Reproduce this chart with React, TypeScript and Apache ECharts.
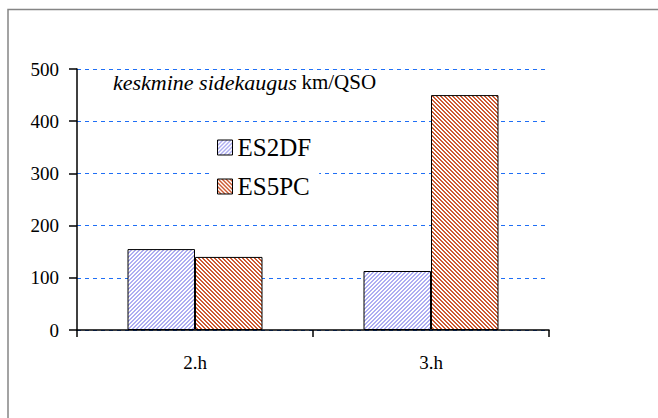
import React, { useEffect, useRef } from "react";
import * as echarts from "echarts";

const categories = ["2.h", "3.h"];
const seriesNames = ["ES2DF", "ES5PC"];
const es2dfValues = [155, 113];
const es5pcValues = [140, 450];
const yMin = 0;
const yMax = 500;
const yInterval = 100;

const FONT = "'Liberation Serif', 'Times New Roman', serif";

function makeHatch(color: string, forward: boolean) {
  const size = 4;
  const c = document.createElement("canvas");
  c.width = size;
  c.height = size;
  const ctx = c.getContext("2d")!;
  ctx.fillStyle = "#ffffff";
  ctx.fillRect(0, 0, size, size);
  ctx.fillStyle = color;
  for (let x = 0; x < size; x++) {
    for (let y = 0; y < size; y++) {
      const v = forward ? (x + y) % size : (x - y + size * 2) % size;
      if (v < 2) ctx.fillRect(x, y, 1, 1);
    }
  }
  return { image: c, repeat: "repeat" };
}

export default function App() {
  const ref = useRef<HTMLDivElement>(null);

  useEffect(() => {
    if (!ref.current) return;
    const chart = echarts.init(ref.current, undefined, { renderer: "svg" });
    const bluePattern = makeHatch("#aeaef2", true);
    const redPattern = makeHatch("#cc5a32", false);

    chart.setOption({
      animation: false,
      backgroundColor: "#ffffff",
      textStyle: { fontFamily: FONT, color: "#000" },
      graphic: [
        {
          type: "rect",
          silent: true,
          z: -10,
          shape: { x: 8, y: 9.5, width: 700, height: 500 },
          style: { fill: "none", stroke: "#858585", lineWidth: 1.5 },
        },
      ],
      title: {
        text: "{i|keskmine sidekaugus} {n|km/QSO}",
        left: 113,
        top: 71,
        padding: 0,
        textStyle: {
          fontWeight: "normal",
          rich: {
            i: { fontFamily: FONT, fontStyle: "italic", fontWeight: "normal", fontSize: 22, color: "#000" },
            n: { fontFamily: FONT, fontWeight: "normal", fontSize: 21, color: "#000" },
          },
        },
      },
      legend: {
        orient: "vertical",
        left: 212,
        top: 130,
        padding: [5, 8, 5, 5],
        backgroundColor: "#ffffff",
        itemWidth: 15,
        itemHeight: 15,
        itemGap: 14,
        icon: "rect",
        data: seriesNames,
        textStyle: { fontFamily: FONT, fontSize: 25, color: "#000" },
        itemStyle: { borderColor: "#000", borderWidth: 1 },
      },
      grid: { left: 77, top: 69, width: 472, height: 261, containLabel: false },
      xAxis: {
        type: "category",
        data: categories,
        boundaryGap: true,
        axisLine: { lineStyle: { color: "#000", width: 1.5 } },
        axisTick: { show: true, length: 7, lineStyle: { color: "#000", width: 1.5 } },
        axisLabel: { margin: 23, fontFamily: FONT, fontSize: 19, color: "#000" },
        splitLine: { show: false },
      },
      yAxis: {
        type: "value",
        min: yMin,
        max: yMax,
        interval: yInterval,
        axisLine: { show: true, lineStyle: { color: "#000", width: 1.5 } },
        axisTick: { show: true, length: 8, lineStyle: { color: "#000", width: 1.5 } },
        axisLabel: { margin: 18, fontFamily: FONT, fontSize: 19, color: "#000" },
        splitLine: {
          show: true,
          lineStyle: { color: "#1f6ff5", width: 1, type: [4, 4] },
        },
      },
      series: [
        {
          name: seriesNames[0],
          type: "bar",
          data: es2dfValues,
          barGap: "0%",
          barCategoryGap: "42.8%",
          itemStyle: { color: bluePattern, borderColor: "#000", borderWidth: 1 },
          z: 3,
        },
        {
          name: seriesNames[1],
          type: "bar",
          data: es5pcValues,
          barGap: "0%",
          barCategoryGap: "42.8%",
          itemStyle: { color: redPattern, borderColor: "#000", borderWidth: 1 },
          z: 3,
        },
      ],
    });

    return () => chart.dispose();
  }, []);

  return (
    <div
      ref={ref}
      style={{ position: "absolute", left: 0, top: 0, width: 658, height: 418 }}
    />
  );
}
